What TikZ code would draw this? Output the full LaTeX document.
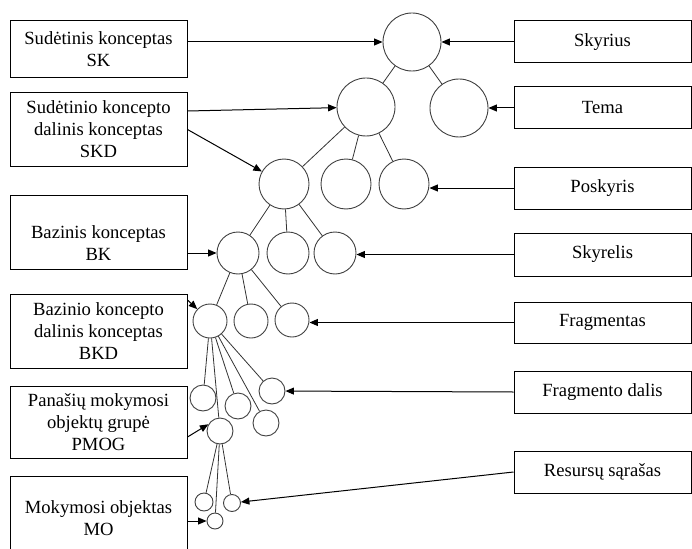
\documentclass[tikz,border=0pt]{standalone}
\usepackage{fontspec}
\setmainfont{Liberation Serif}
\usetikzlibrary{arrows.meta}

\begin{document}
\begin{tikzpicture}[x=1pt,y=-1pt,font=\fontsize{18.6}{22}\selectfont]
        \useasboundingbox (0,0) rectangle (692,548);
        \tikzstyle{Box}=[draw, line width=1pt, minimum width=177pt, inner sep=0pt, align=center]
        \tikzstyle{V}=[draw=black!75, circle, line width=0.9pt, inner sep=0pt]
        \tikzstyle{EdgeStyle}=[draw=black!80, line width=0.8pt]
        \tikzstyle{ArrowStyle}=[-{Triangle[length=8.5pt,width=7pt]}, line width=1pt]
        % left boxes
        \node[Box, minimum height=57pt] (sk) at (98.5,49.5) {Sudėtinis konceptas\\SK};
        \node[Box, minimum height=73pt] (skd) at (98.5,129.5) {Sudėtinio koncepto\\dalinis konceptas\\SKD};
        \node[Box, minimum height=74pt] (bk) at (98.5,232) {};
        \node[align=center] (bktext) at (98.5,243) {Bazinis konceptas\\BK};
        \node[Box, minimum height=74pt] (bkd) at (98.5,331) {Bazinio koncepto\\dalinis konceptas\\BKD};
        \node[Box, minimum height=72pt] (pmog) at (98.5,422) {Panašių mokymosi\\objektų grupė\\PMOG};
        \node[Box, minimum height=84pt] (mo) at (98.5,518) {Mokymosi objektas\\MO};
        % right boxes
        \node[Box, minimum height=42pt] (sky) at (602.5,42) {Skyrius};
        \node[Box, minimum height=42pt] (tema) at (602.5,108) {Tema};
        \node[Box, minimum height=42pt] (posk) at (602.5,188) {Poskyris};
        \node[Box, minimum height=43pt] (skyr) at (602.5,254.5) {Skyrelis};
        \node[Box, minimum height=41pt] (frag) at (602.5,322.5) {Fragmentas};
        \node[Box, minimum height=42pt] (fdal) at (602.5,392) {Fragmento dalis};
        \node[Box, minimum height=42pt] (res) at (602.5,472) {Resursų sąrašas};
        % vertices
        \node[V, minimum size=58pt] (r) at (412,42) {};
        \node[V, minimum size=58pt] (t1) at (366,107) {};
        \node[V, minimum size=58pt] (t2) at (459,108) {};
        \node[V, minimum size=50pt] (p1) at (284,184) {};
        \node[V, minimum size=50pt] (p2) at (346,184) {};
        \node[V, minimum size=50pt] (p3) at (404,184) {};
        \node[V, minimum size=42pt] (s1) at (238,253) {};
        \node[V, minimum size=42pt] (s2) at (288,253) {};
        \node[V, minimum size=42pt] (s3) at (335,253) {};
        \node[V, minimum size=34pt] (f1) at (210,321) {};
        \node[V, minimum size=34pt] (f2) at (251,321) {};
        \node[V, minimum size=34pt] (f3) at (292,320) {};
        \node[V, minimum size=26pt] (d1) at (203,398) {};
        \node[V, minimum size=26pt] (d2) at (238,406) {};
        \node[V, minimum size=26pt] (d3) at (272,391) {};
        \node[V, minimum size=26pt] (d4) at (266,423) {};
        \node[V, minimum size=26pt] (g) at (220,431) {};
        \node[V, minimum size=18pt] (m1) at (204,502) {};
        \node[V, minimum size=17pt] (m2) at (232,503) {};
        \node[V, minimum size=16pt] (m3) at (215,521) {};
        % tree edges
        \draw[EdgeStyle] (r) -- (t1);
        \draw[EdgeStyle] (r) -- (t2);
        \draw[EdgeStyle] (t1) -- (p1);
        \draw[EdgeStyle] (t1) -- (p2);
        \draw[EdgeStyle] (t1) -- (p3);
        \draw[EdgeStyle] (p1) -- (s1);
        \draw[EdgeStyle] (p1) -- (s2);
        \draw[EdgeStyle] (p1) -- (s3);
        \draw[EdgeStyle] (s1) -- (f1);
        \draw[EdgeStyle] (s1) -- (f2);
        \draw[EdgeStyle] (s1) -- (f3);
        \draw[EdgeStyle] (f1) -- (d1);
        \draw[EdgeStyle] (f1) -- (g);
        \draw[EdgeStyle] (f1) -- (d2);
        \draw[EdgeStyle] (f1) -- (d4);
        \draw[EdgeStyle] (f1) -- (d3);
        \draw[EdgeStyle] (g) -- (m1);
        \draw[EdgeStyle] (g) -- (m3);
        \draw[EdgeStyle] (g) -- (m2);
        % arrows from the left
        \draw[ArrowStyle] (sk.east |- r.west) -- (r.west);
        \draw[ArrowStyle] ([yshift=18.5pt]skd.east) -- (t1);
        \draw[ArrowStyle] (skd.east) -- (p1);
        \draw[ArrowStyle] (bk.east |- s1.west) -- (s1.west);
        \draw[ArrowStyle] ([yshift=31pt]bkd.east) -- (f1);
        \draw[ArrowStyle] ([yshift=-15pt]pmog.east) -- (g.150);
        \draw[ArrowStyle] (mo.east |- m3.west) -- (m3.west);
        % arrows from the right
        \draw[ArrowStyle] (sky.west) -- (r);
        \draw[ArrowStyle] (tema.west) -- (t2);
        \draw[ArrowStyle] (posk.west) -- (posk.west -| p3.east);
        \draw[ArrowStyle] (skyr.west) -- (skyr.west -| s3.east);
        \draw[ArrowStyle] (frag.west) -- (frag.west -| f3.east);
        \draw[ArrowStyle] (fdal.west) -- (d3);
        \draw[ArrowStyle] (res.west) -- (m2);
\end{tikzpicture}
\end{document}
